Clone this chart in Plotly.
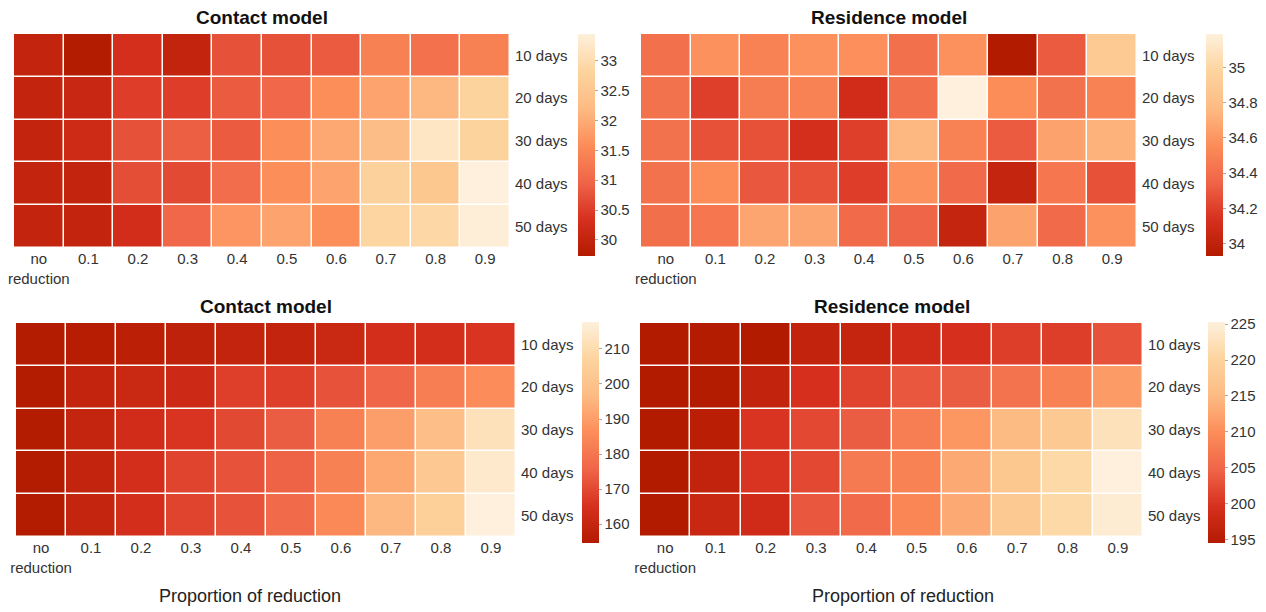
import plotly.graph_objects as go

W, H = 1266, 612

# Axis categories
reduction_labels = ["no<br>reduction", "0.1", "0.2", "0.3", "0.4", "0.5", "0.6", "0.7", "0.8", "0.9"]
period_labels = ["10 days", "20 days", "30 days", "40 days", "50 days"]

# Top row: contact model (rows = 10..50 days, columns = proportion of reduction)
contact_top = [
    [30.0, 29.75, 30.3, 30.0, 30.75, 30.75, 30.85, 31.4, 31.15, 31.4],
    [30.0, 30.1, 30.5, 30.5, 30.85, 31.0, 31.6, 31.9, 32.15, 32.8],
    [30.0, 30.2, 30.75, 30.9, 30.85, 31.6, 31.95, 32.25, 33.2, 32.8],
    [30.0, 30.0, 30.7, 30.65, 31.1, 31.6, 31.9, 32.75, 32.5, 33.45],
    [30.0, 30.0, 30.25, 31.0, 31.7, 31.9, 31.6, 32.85, 32.9, 33.4],
]
# Top row: residence model
residence_top = [
    [34.41, 34.58, 34.5, 34.58, 34.57, 34.41, 34.58, 33.93, 34.31, 34.9],
    [34.42, 34.2, 34.47, 34.5, 34.1, 34.41, 35.19, 34.56, 34.42, 34.5],
    [34.42, 34.27, 34.27, 34.12, 34.2, 34.75, 34.5, 34.31, 34.66, 34.73],
    [34.42, 34.56, 34.3, 34.27, 34.19, 34.58, 34.38, 34.03, 34.44, 34.27],
    [34.4, 34.44, 34.67, 34.67, 34.38, 34.35, 34.03, 34.66, 34.38, 34.58],
]
# Bottom row: contact model
contact_bottom = [
    [155, 155.5, 157, 158, 159, 159, 161, 164, 164, 166],
    [155, 159, 161, 162, 168, 168, 172, 176, 182, 186],
    [155, 159.5, 163, 166, 170, 174, 183, 190, 198, 212],
    [155, 159, 164, 169, 172, 175, 183, 192, 202, 215],
    [155, 159.5, 164, 169, 172, 177, 185, 196, 205, 217.7],
]
# Bottom row: residence model
residence_bottom = [
    [194.5, 194.7, 194.5, 196.5, 197, 198.5, 199.5, 201, 201, 203],
    [194.5, 194.7, 196.5, 199.5, 201.5, 203.5, 204, 206.5, 208.5, 211.5],
    [194.5, 195.5, 200, 202, 204, 208, 211, 215, 218, 222.5],
    [194.5, 196.5, 200, 202, 207.5, 208.5, 213, 217.5, 221, 225.3],
    [194.5, 197.5, 198.5, 203.5, 205.5, 209, 213, 218, 221, 224.5],
]

# Colour-bar ranges and ticks
ranges = [(29.73, 33.45), (33.93, 35.19), (154.6, 217.7), (194.5, 225.3)]
cbar_ticks = [
    [30, 30.5, 31, 31.5, 32, 32.5, 33],
    [34, 34.2, 34.4, 34.6, 34.8, 35],
    [160, 170, 180, 190, 200, 210],
    [195, 200, 205, 210, 215, 220, 225],
]
titles = ["Contact model", "Residence model", "Contact model", "Residence model"]

colorscale = [
    [0.0, "#b31b00"],
    [1 / 6, "#d7301f"],
    [2 / 6, "#ef6548"],
    [3 / 6, "#fc8d59"],
    [4 / 6, "#fdbb84"],
    [5 / 6, "#fdd49e"],
    [1.0, "#fef0dc"],
]

# Panel boxes in pixels: (left, right, top, bottom), colour-bar (left, top, bottom)
panels = [
    (14, 510, 34, 248),
    (641, 1137, 34, 248),
    (16, 516, 323, 537),
    (640, 1143, 323, 537),
]
cbars = [
    (578, 34, 256),
    (1206, 34, 256),
    (582, 322, 543),
    (1208, 322, 543),
]

FONT = "Liberation Sans, Arial, sans-serif"
TXT = "#333333"

fig = go.Figure()
layout = {}
datasets = [contact_top, residence_top, contact_bottom, residence_bottom]
annotations = []

for i, z in enumerate(datasets):
    n = i + 1
    xa = "x" if n == 1 else f"x{n}"
    ya = "y" if n == 1 else f"y{n}"
    left, right, top, bottom = panels[i]
    cx, ctop, cbot = cbars[i]
    zmin, zmax = ranges[i]
    fig.add_trace(go.Heatmap(
        z=z,
        x=reduction_labels,
        y=period_labels,
        xaxis=xa,
        yaxis=ya,
        zmin=zmin,
        zmax=zmax,
        colorscale=colorscale,
        xgap=1.5,
        ygap=1.5,
        colorbar=dict(
            x=cx / W,
            xanchor="left",
            xpad=0,
            y=1 - (ctop + cbot) / 2 / H,
            yanchor="middle",
            ypad=0,
            len=cbot - ctop,
            lenmode="pixels",
            thickness=17,
            outlinewidth=0,
            tickvals=cbar_ticks[i],
            ticks="outside",
            ticklen=3,
            tickcolor="#aaaaaa",
            tickfont=dict(family=FONT, size=15, color=TXT),
        ),
        hoverongaps=False,
    ))
    layout[f"xaxis{'' if n == 1 else n}"] = dict(
        domain=[left / W, right / W],
        anchor=ya,
        automargin=False,
        showgrid=False,
        zeroline=False,
        showline=False,
        ticks="",
        tickfont=dict(family=FONT, size=15, color=TXT),
        fixedrange=True,
    )
    layout[f"yaxis{'' if n == 1 else n}"] = dict(
        domain=[1 - bottom / H, 1 - top / H],
        anchor=xa,
        automargin=False,
        side="right",
        autorange="reversed",
        showgrid=False,
        zeroline=False,
        showline=False,
        ticks="",
        ticklabelstandoff=4,
        tickfont=dict(family=FONT, size=15, color=TXT),
        fixedrange=True,
    )
    annotations.append(dict(
        text=f"<b>{titles[i]}</b>",
        x=(left + right) / 2 / W,
        y=1 - (top - 17) / H,
        xref="paper",
        yref="paper",
        xanchor="center",
        yanchor="middle",
        showarrow=False,
        font=dict(family=FONT, size=19, color="#111111"),
    ))

for xc in (250, 903):
    annotations.append(dict(
        text="Proportion of reduction",
        x=xc / W,
        y=1 - 596 / H,
        xref="paper",
        yref="paper",
        xanchor="center",
        yanchor="middle",
        showarrow=False,
        font=dict(family=FONT, size=18, color="#222222"),
    ))

fig.update_layout(
    width=W,
    height=H,
    margin=dict(l=0, r=0, t=0, b=0, autoexpand=False),
    paper_bgcolor="white",
    plot_bgcolor="white",
    annotations=annotations,
    **layout,
)

fig.write_html("out.html")
